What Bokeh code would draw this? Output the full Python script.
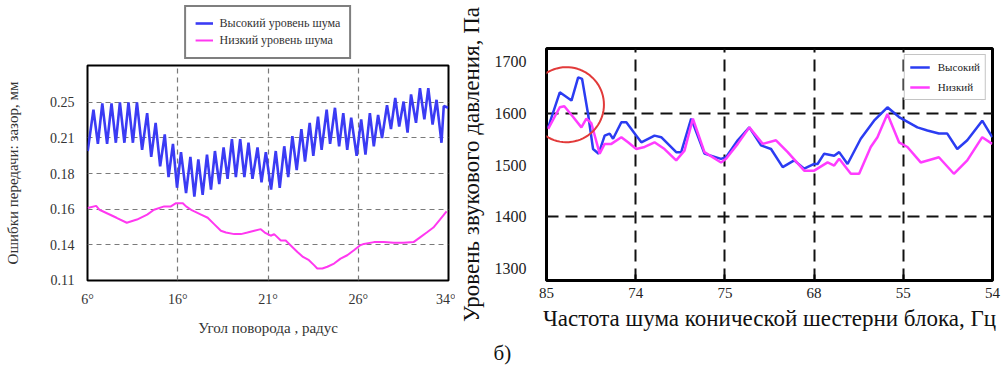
import numpy as np
from bokeh.plotting import figure
from bokeh.layouts import row, column
from bokeh.models import Legend, LegendItem, FixedTicker, PolyAnnotation
from bokeh.core.properties import value
from bokeh.embed import file_html
from bokeh.resources import INLINE

# ---------------- left chart data ----------------
angle_ticks = [6, 16, 21, 26, 34]            # degrees (equally spaced on the axis)
gap_ticks = [0.11, 0.14, 0.16, 0.18, 0.21, 0.25]  # mm (equally spaced on the axis)

high_angle = [6.02, 6.66, 7.15, 7.64, 8.17, 8.66, 9.14, 9.59, 10.09, 10.54,
              11.03, 11.48, 12.05, 12.61, 13.06, 13.55, 14.05, 14.56, 14.98, 15.47,
              15.92, 16.18, 16.46, 16.70, 16.92, 17.14, 17.38, 17.62, 17.84, 18.06,
              18.30, 18.54, 18.76, 19.00, 19.22, 19.46, 19.69, 19.92, 20.14, 20.42,
              20.64, 20.88, 21.17, 21.43, 21.65, 21.90, 22.12, 22.35, 22.59, 22.85,
              23.05, 23.31, 23.51, 23.77, 23.97, 24.25, 24.44, 24.71, 24.94, 25.17,
              25.39, 25.61, 25.91, 26.26, 26.64, 27.03, 27.38, 27.76, 28.11, 28.55,
              28.90, 29.28, 29.63, 30.02, 30.37, 30.68, 31.12, 31.47, 31.86, 32.21,
              32.59, 32.94, 33.38, 33.58, 33.97]
high_gap = [0.199, 0.242, 0.205, 0.249, 0.205, 0.249, 0.206, 0.250, 0.206, 0.250,
            0.206, 0.250, 0.200, 0.238, 0.194, 0.227, 0.186, 0.214, 0.178, 0.205,
            0.172, 0.198, 0.169, 0.194, 0.167, 0.192, 0.168, 0.196, 0.171, 0.199,
            0.174, 0.202, 0.177, 0.209, 0.178, 0.209, 0.178, 0.206, 0.177, 0.202,
            0.175, 0.198, 0.171, 0.199, 0.172, 0.203, 0.178, 0.212, 0.183, 0.220,
            0.190, 0.227, 0.195, 0.234, 0.200, 0.242, 0.205, 0.244, 0.203, 0.238,
            0.200, 0.233, 0.195, 0.231, 0.196, 0.238, 0.203, 0.236, 0.210, 0.247,
            0.220, 0.255, 0.223, 0.251, 0.216, 0.259, 0.227, 0.266, 0.231, 0.266,
            0.225, 0.253, 0.206, 0.246, 0.244]

low_angle = [6.02, 6.96, 7.33, 8.09, 9.22, 10.35, 11.48, 12.61, 13.37, 14.50,
             15.24, 15.81, 16.28, 16.46, 16.74, 16.92, 17.29, 17.66, 18.03, 18.39,
             18.67, 19.13, 19.50, 19.86, 20.24, 20.60, 20.82, 21.15, 21.34, 21.71,
             21.98, 22.26, 22.63, 22.94, 23.27, 23.55, 23.73, 24.01, 24.29, 24.66,
             25.02, 25.39, 25.76, 26.15, 26.50, 27.39, 28.26, 29.14, 30.02, 30.90,
             31.48, 32.07, 32.66, 33.24, 33.83]
low_gap = [0.1606, 0.1618, 0.1596, 0.1578, 0.1551, 0.1523, 0.1541, 0.1569, 0.1596, 0.1615,
           0.1615, 0.1633, 0.1633, 0.1615, 0.1596, 0.1587, 0.1569, 0.1551, 0.1514, 0.1478,
           0.1468, 0.1459, 0.1459, 0.1468, 0.1478, 0.1487, 0.1468, 0.1450, 0.1459, 0.1423,
           0.1423, 0.1393, 0.1338, 0.1296, 0.1268, 0.1227, 0.1198, 0.1198, 0.1213, 0.1240,
           0.1282, 0.1310, 0.1352, 0.1393, 0.1404, 0.1414, 0.1414, 0.1410, 0.1410, 0.1414,
           0.1441, 0.1468, 0.1496, 0.1541, 0.1587]

# ---------------- right chart data ----------------
freq_labels = ["85", "74", "75", "68", "55", "54"]
spl_ticks = [1300, 1400, 1500, 1600, 1700]

high_pos = [0.019, 0.149, 0.280, 0.355, 0.399, 0.466, 0.522, 0.585, 0.652, 0.708,
            0.746, 0.839, 0.895, 1.007, 1.063, 1.211, 1.286, 1.454, 1.510, 1.622,
            1.771, 1.957, 2.013, 2.144, 2.274, 2.405, 2.517, 2.648, 2.777, 2.889,
            3.001, 3.039, 3.113, 3.225, 3.281, 3.375, 3.523, 3.672, 3.822, 3.952,
            4.158, 4.270, 4.399, 4.493, 4.605, 4.717, 4.885, 4.997]
high_spl = [1573, 1641, 1625, 1670, 1667, 1599, 1531, 1522, 1557, 1561,
            1551, 1583, 1583, 1557, 1544, 1557, 1554, 1525, 1525, 1590,
            1522, 1512, 1515, 1548, 1573, 1538, 1531, 1496, 1509, 1493,
            1502, 1502, 1522, 1518, 1525, 1502, 1551, 1586, 1612, 1593,
            1573, 1567, 1561, 1561, 1531, 1548, 1586, 1554]

low_pos = [0.019, 0.149, 0.200, 0.299, 0.391, 0.447, 0.503, 0.596, 0.652, 0.727,
           0.839, 0.914, 1.007, 1.100, 1.211, 1.323, 1.454, 1.547, 1.641, 1.771,
           1.957, 2.013, 2.144, 2.274, 2.424, 2.573, 2.704, 2.889, 3.001, 3.151,
           3.225, 3.281, 3.412, 3.505, 3.635, 3.710, 3.822, 3.952, 4.046, 4.195,
           4.399, 4.567, 4.717, 4.885, 4.997]
low_spl = [1570, 1612, 1614, 1593, 1573, 1590, 1581, 1522, 1541, 1541,
           1554, 1544, 1531, 1535, 1544, 1531, 1509, 1528, 1590, 1525,
           1505, 1512, 1541, 1573, 1541, 1548, 1525, 1489, 1489, 1505,
           1499, 1512, 1483, 1483, 1535, 1554, 1599, 1544, 1535, 1505,
           1515, 1483, 1509, 1554, 1541]

SERIF = "Liberation Serif"
HI_LEFT, LO_LEFT = "#3b3bf4", "#ff38f0"

# axis warping for the left chart (labels are equally spaced on the axis)
def angle_to_axis(a):
    return np.interp(np.asarray(a, float), angle_ticks, np.arange(len(angle_ticks)))

def gap_to_axis(g):
    g = np.asarray(g, float)
    pos = np.interp(g, gap_ticks, np.arange(len(gap_ticks)))
    top = g > gap_ticks[-1]
    slope = gap_ticks[-1] - gap_ticks[-2]
    pos[top] = len(gap_ticks) - 1 + (g[top] - gap_ticks[-1]) / slope
    return pos

def blank_strip(w, h, left=0, right=0):
    f = figure(width=w, height=h, output_backend="svg", toolbar_location=None,
               x_range=(0, 1), y_range=(0, 1), x_axis_location=None, y_axis_location=None,
               min_border_left=left, min_border_right=right, min_border_top=0, min_border_bottom=0)
    f.outline_line_color = None
    f.grid.visible = False
    return f

# ---------------- left: legend strip (legend sits above the plot frame) ----------------
leg_fig = blank_strip(455, 63, left=87, right=7)
# legend key samples, kept outside the strip's visible range
d_hi = leg_fig.line([-2, -1], [-2, -2], line_color=HI_LEFT, line_width=2.6)
d_lo = leg_fig.line([-2, -1], [-2, -2], line_color=LO_LEFT, line_width=2)
leg1 = Legend(items=[LegendItem(label="Высокий уровень шума", renderers=[d_hi]),
                     LegendItem(label="Низкий уровень шума", renderers=[d_lo])],
              location="center")
leg1.border_line_color = "black"
leg1.border_line_width = 2
leg1.background_fill_color = "white"
leg1.label_text_font = SERIF
leg1.label_text_font_size = "12px"
leg1.label_text_color = "#333333"
leg1.glyph_width = 18
leg1.glyph_height = 12
leg1.label_standoff = 7
leg1.label_height = 14
leg1.spacing = 2
leg1.padding = 9
leg1.margin = 0
leg_fig.add_layout(leg1, "center")

# ---------------- left figure ----------------
p1 = figure(width=455, height=275, output_backend="svg", toolbar_location=None,
            x_range=(0, 4), y_range=(-0.01, 6.04),
            min_border_left=87, min_border_right=7, min_border_top=2, min_border_bottom=54)
p1.outline_line_color = "black"
p1.outline_line_width = 2

p1.line(angle_to_axis(high_angle), gap_to_axis(high_gap), line_color=HI_LEFT, line_width=2.6)
p1.line(angle_to_axis(low_angle), gap_to_axis(low_gap), line_color=LO_LEFT, line_width=2)

p1.xaxis.ticker = FixedTicker(ticks=list(range(len(angle_ticks))))
p1.xaxis.major_label_overrides = {i: f"{a}°" for i, a in enumerate(angle_ticks)}
p1.yaxis.ticker = FixedTicker(ticks=list(range(len(gap_ticks))))
p1.yaxis.major_label_overrides = {i: f"{g:.2f}" for i, g in enumerate(gap_ticks)}
p1.xgrid.ticker = FixedTicker(ticks=[1, 2, 3])
p1.ygrid.ticker = FixedTicker(ticks=[1, 2, 3, 4, 5])
for g in (p1.xgrid, p1.ygrid):
    g.grid_line_color = "#7a7a7a"
    g.grid_line_dash = "5 4"
    g.grid_line_width = 1.2
for ax in (p1.xaxis, p1.yaxis):
    ax.axis_line_color = None
    ax.major_tick_line_color = None
    ax.minor_tick_line_color = None
    ax.major_label_text_font = SERIF
    ax.major_label_text_font_size = "14px"
    ax.major_label_text_color = "#333333"
    ax.axis_label_text_font = SERIF
    ax.axis_label_text_font_size = "15px"
    ax.axis_label_text_font_style = "normal"
    ax.axis_label_text_color = "#333333"
p1.xaxis.axis_label = "Угол поворода , радус"
p1.yaxis.axis_label = "Ошибки передачи: зазор, мм"
p1.xaxis.major_label_standoff = 5
p1.xaxis.axis_label_standoff = 10
p1.yaxis.major_label_standoff = 7
p1.yaxis.axis_label_standoff = 26

# ---------------- right figure ----------------
p2 = figure(width=546, height=338, output_backend="svg", toolbar_location=None,
            x_range=(0, 5), y_range=(1276, 1726),
            min_border_left=90, min_border_right=9, min_border_top=48, min_border_bottom=58)
p2.outline_line_color = "black"
p2.outline_line_width = 3

b_hi = p2.line(high_pos, high_spl, line_color="#2b3cf2", line_width=2.5)
b_lo = p2.line(low_pos, low_spl, line_color="#ff3cff", line_width=2.5)

p2.xaxis.ticker = FixedTicker(ticks=list(range(len(freq_labels))))
p2.xaxis.major_label_overrides = {i: s for i, s in enumerate(freq_labels)}
p2.yaxis.ticker = FixedTicker(ticks=spl_ticks)
p2.xgrid.ticker = FixedTicker(ticks=[1, 2, 3, 4])
p2.ygrid.ticker = FixedTicker(ticks=[1400, 1600])
for g in (p2.xgrid, p2.ygrid):
    g.grid_line_color = "#111111"
    g.grid_line_dash = "12 7"
    g.grid_line_width = 2
for ax in (p2.xaxis, p2.yaxis):
    ax.axis_line_color = None
    ax.minor_tick_line_color = None
    ax.major_label_text_font = SERIF
    ax.major_label_text_color = "#222222"
    ax.axis_label_text_font = SERIF
    ax.axis_label_text_font_size = "23px"
    ax.axis_label_text_font_style = "normal"
    ax.axis_label_text_color = "#111111"
p2.yaxis.major_tick_line_color = None
p2.xaxis.major_tick_in = 6
p2.xaxis.major_tick_out = 0
p2.xaxis.major_tick_line_width = 2
p2.xaxis.major_label_text_font_size = "15px"
p2.yaxis.major_label_text_font_size = "16px"
p2.xaxis.axis_label = "Частота шума конической шестерни блока, Гц"
p2.yaxis.axis_label = "Уровень звукового давления, Па"
p2.xaxis.major_label_standoff = 7
p2.xaxis.axis_label_standoff = 5
p2.yaxis.major_label_standoff = 14
p2.yaxis.axis_label_standoff = 8

leg2 = Legend(items=[LegendItem(label="Высокий", renderers=[b_hi]),
                     LegendItem(label="Низкий", renderers=[b_lo])],
              location="top_right")
leg2.border_line_color = "#8a8a8a"
leg2.border_line_width = 1.5
leg2.background_fill_color = "white"
leg2.label_text_font = SERIF
leg2.label_text_font_size = "11px"
leg2.label_text_color = "#222222"
leg2.glyph_width = 20
leg2.glyph_height = 12
leg2.label_standoff = 8
leg2.label_height = 14
leg2.spacing = 6
leg2.padding = 5
leg2.margin = 6
p2.add_layout(leg2, "center")

# red highlight circle around the early peak
theta = np.linspace(0, 2 * np.pi, 80)
cx, cy, rx, ry = 0.224, 1617, 0.42, 72.8
p2.add_layout(PolyAnnotation(xs=list(cx + rx * np.cos(theta)), ys=list(cy + ry * np.sin(theta)),
                             fill_color=None, fill_alpha=0, line_color="#e23a3a",
                             line_alpha=1.0, line_width=2))

# caption strip across the whole page
cap = figure(width=1001, height=29, output_backend="svg", toolbar_location=None,
             x_range=(0, 1001), y_range=(0, 29), x_axis_location=None, y_axis_location=None,
             min_border_left=0, min_border_right=0, min_border_top=0, min_border_bottom=0)
cap.outline_line_color = None
cap.grid.visible = False
cap.text(x=[493], y=[15], text=["б)"], text_font=value(SERIF), text_font_size="21px",
         text_baseline="middle", text_align="left", text_color="#111111")

layout = column(row(column(leg_fig, p1), p2), cap)
open("out.html", "w").write(file_html(layout, INLINE))
